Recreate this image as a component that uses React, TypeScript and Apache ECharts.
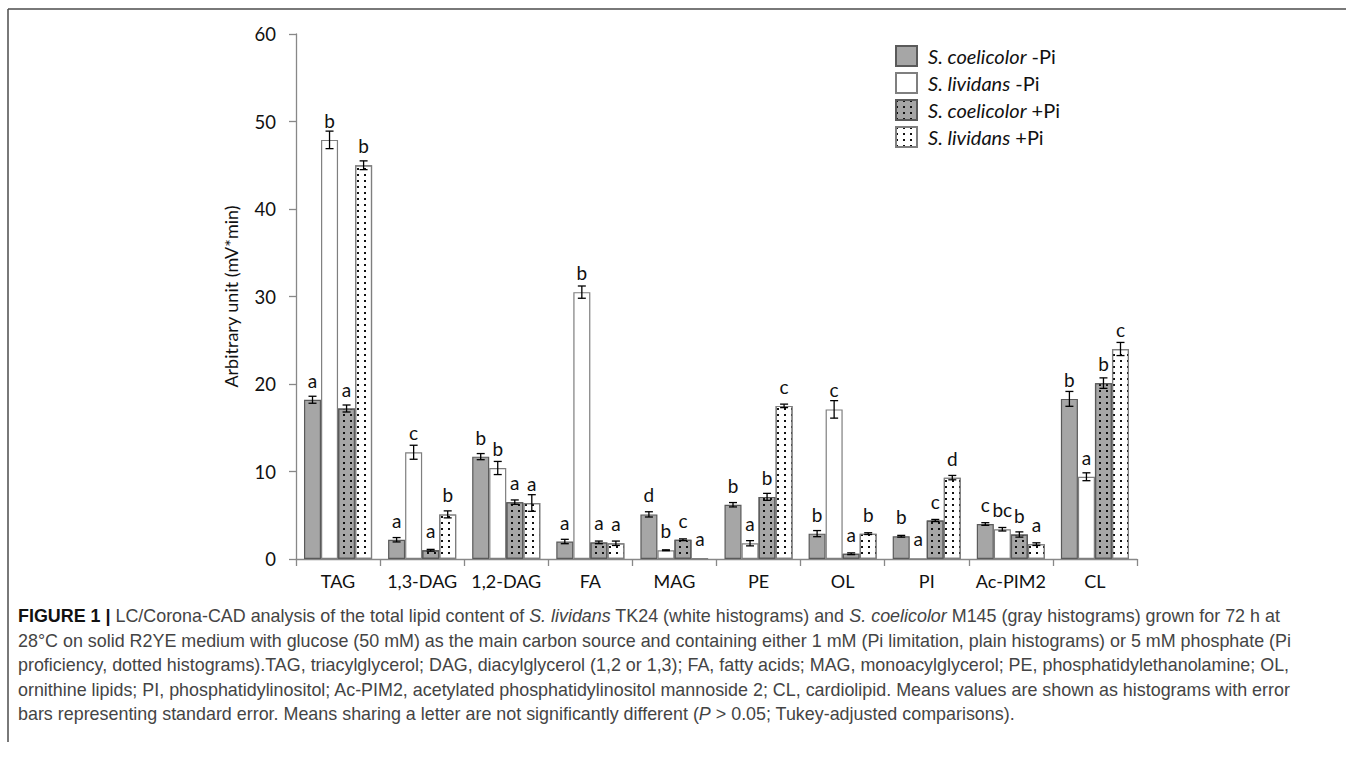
import React, { useEffect, useRef } from 'react';
import * as echarts from 'echarts';

const categories = ['TAG', '1,3-DAG', '1,2-DAG', 'FA', 'MAG', 'PE', 'OL', 'PI', 'Ac-PIM2', 'CL'];

const coelMinus = [18.2, 2.2, 11.7, 2.0, 5.1, 6.2, 2.9, 2.6, 4.0, 18.3];
const coelMinusErr = [0.4, 0.25, 0.35, 0.25, 0.3, 0.25, 0.35, 0.1, 0.15, 0.85];
const coelMinusLetters = ['a', 'a', 'b', 'a', 'd', 'b', 'b', 'b', 'c', 'b'];

const livMinus = [47.9, 12.2, 10.4, 30.5, 1.0, 1.8, 17.1, 0.05, 3.4, 9.4];
const livMinusErr = [1.0, 0.8, 0.75, 0.7, 0.05, 0.3, 1.0, 0, 0.2, 0.45];
const livMinusLetters = ['b', 'c', 'b', 'b', 'b', 'a', 'c', 'a', 'bc', 'a'];

const coelPlus = [17.2, 1.0, 6.5, 1.9, 2.2, 7.1, 0.6, 4.4, 2.8, 20.1];
const coelPlusErr = [0.4, 0.1, 0.25, 0.15, 0.1, 0.4, 0.1, 0.12, 0.3, 0.6];
const coelPlusLetters = ['a', 'a', 'a', 'a', 'c', 'b', 'a', 'c', 'b', 'b'];

const livPlus = [45.0, 5.1, 6.4, 1.8, 0.1, 17.5, 2.9, 9.3, 1.7, 24.0];
const livPlusErr = [0.5, 0.4, 0.95, 0.25, 0, 0.2, 0.1, 0.25, 0.15, 0.75];
const livPlusLetters = ['b', 'b', 'a', 'a', 'a', 'c', 'b', 'd', 'a', 'c'];

const seriesNames = ['S. coelicolor -Pi', 'S. lividans -Pi', 'S. coelicolor +Pi', 'S. lividans +Pi'];

const yTicks = { min: 0, max: 60, interval: 10 };

const captionLines = [
  '{b|FIGURE 1 |} LC/Corona-CAD analysis of the total lipid content of {i|S. lividans} TK24 (white histograms) and {i|S. coelicolor} M145 (gray histograms) grown for 72 h at',
  '28°C on solid R2YE medium with glucose (50 mM) as the main carbon source and containing either 1 mM (Pi limitation, plain histograms) or 5 mM phosphate (Pi',
  'proficiency, dotted histograms).TAG, triacylglycerol; DAG, diacylglycerol (1,2 or 1,3); FA, fatty acids; MAG, monoacylglycerol; PE, phosphatidylethanolamine; OL,',
  'ornithine lipids; PI, phosphatidylinositol; Ac-PIM2, acetylated phosphatidylinositol mannoside 2; CL, cardiolipid. Means values are shown as histograms with error',
  'bars representing standard error. Means sharing a letter are not significantly different ({i|P} > 0.05; Tukey-adjusted comparisons).',
];

const FONT = 'Lato';
const CAP_FONT = 'Liberation Sans';
const CAP_SIZE = 17.9;

export default function App() {
  const ref = useRef<HTMLDivElement>(null);

  useEffect(() => {
    const chart = echarts.init(ref.current!, null, { renderer: 'svg' });

    const dotted = {
      symbol: 'rect',
      symbolSize: 1,
      dashArrayX: [1.3, 4.2],
      dashArrayY: [1.3, 4],
      color: '#111',
      rotation: 0,
    };

    const defs = [
      { name: seriesNames[0], values: coelMinus, errs: coelMinusErr, letters: coelMinusLetters, color: '#a6a6a6', border: '#5a5a5a', decal: null },
      { name: seriesNames[1], values: livMinus, errs: livMinusErr, letters: livMinusLetters, color: '#ffffff', border: '#7f7f7f', decal: null },
      { name: seriesNames[2], values: coelPlus, errs: coelPlusErr, letters: coelPlusLetters, color: '#a6a6a6', border: '#5a5a5a', decal: dotted },
      { name: seriesNames[3], values: livPlus, errs: livPlusErr, letters: livPlusLetters, color: '#ffffff', border: '#7f7f7f', decal: dotted },
    ];

    const CAT_GAP = 0.19;

    const barSeries = defs.map((d) => ({
      name: d.name,
      type: 'bar',
      barGap: '0%',
      barCategoryGap: '19%',
      data: d.values,
      itemStyle: {
        color: d.color,
        borderColor: d.border,
        borderWidth: 1.2,
        ...(d.decal ? { decal: d.decal } : {}),
      },
      label: {
        show: true,
        position: 'top',
        distance: 10,
        fontSize: 19,
        fontFamily: FONT,
        color: '#111',
        formatter: (p: any) => d.letters[p.dataIndex],
      },
      emphasis: { disabled: true },
      z: 2,
    }));

    const errSeries = defs.map((d, k) => ({
      name: '_err' + k,
      type: 'custom',
      silent: true,
      z: 5,
      encode: { x: 0, y: 1 },
      data: d.values.map((v, i) => [i, v, d.errs[i]]),
      renderItem: (params: any, api: any) => {
        const idx = api.value(0);
        const v = api.value(1);
        const e = api.value(2);
        if (!(e > 0)) return { type: 'group', children: [] };
        const band = api.size([1, 0])[0];
        const bw = (band * (1 - CAT_GAP)) / 4;
        const off = (k - 1.5) * bw;
        const top = api.coord([idx, v + e]);
        const bot = api.coord([idx, Math.max(0, v - e)]);
        const x = top[0] + off;
        const cap = 4;
        const st = { stroke: '#000', lineWidth: 1.3 };
        return {
          type: 'group',
          children: [
            { type: 'line', shape: { x1: x, y1: top[1], x2: x, y2: bot[1] }, style: st },
            { type: 'line', shape: { x1: x - cap, y1: top[1], x2: x + cap, y2: top[1] }, style: st },
            { type: 'line', shape: { x1: x - cap, y1: bot[1], x2: x + cap, y2: bot[1] }, style: st },
          ],
        };
      },
    }));

    const legendFormatter = (name: string) => {
      const parts = name.split(' ');
      const tr = parts.pop();
      return '{i|' + parts.join(' ') + '} ' + tr;
    };

    const captionGraphics = captionLines.map((t, i) => ({
      type: 'text',
      left: 18,
      top: 607 + i * 24.5,
      silent: true,
      style: {
        text: t,
        fontSize: CAP_SIZE,
        fontFamily: CAP_FONT,
        fill: '#444444',
        rich: {
          b: { fontSize: CAP_SIZE, fontFamily: CAP_FONT, fontWeight: 'bold', fill: '#111' },
          i: { fontSize: CAP_SIZE, fontFamily: CAP_FONT, fontStyle: 'italic', fill: '#444444' },
        },
      },
    }));

    const option: any = {
      animation: false,
      backgroundColor: '#ffffff',
      grid: { left: 296, right: 209, top: 34, bottom: 199, containLabel: false },
      legend: {
        data: seriesNames,
        orient: 'vertical',
        left: 890,
        top: 40,
        itemWidth: 21,
        itemHeight: 20,
        itemGap: 5,
        icon: 'rect',
        selectedMode: false,
        formatter: legendFormatter,
        textStyle: {
          fontSize: 20,
          lineHeight: 20,
          fontFamily: FONT,
          color: '#111',
          padding: [0, 0, 0, 6],
          rich: {
            i: { fontSize: 20, lineHeight: 20, fontFamily: FONT, fontStyle: 'italic', color: '#111' },
          },
        },
      },
      xAxis: {
        type: 'category',
        data: categories,
        axisLine: { lineStyle: { color: '#888', width: 1.3 } },
        axisTick: { show: true, length: 7, lineStyle: { color: '#888', width: 1.3 } },
        axisLabel: { interval: 0, fontSize: 18, fontFamily: FONT, color: '#111', margin: 13 },
      },
      yAxis: {
        type: 'value',
        min: yTicks.min,
        max: yTicks.max,
        interval: yTicks.interval,
        name: 'Arbitrary unit (mV*min)',
        nameLocation: 'middle',
        nameGap: 56,
        nameTextStyle: { fontSize: 18, fontFamily: FONT, color: '#111' },
        axisLine: { show: true, lineStyle: { color: '#888', width: 1.3 } },
        axisTick: { show: true, length: 7, lineStyle: { color: '#888', width: 1.3 } },
        axisLabel: { fontSize: 18.5, fontFamily: FONT, color: '#111', margin: 20 },
        splitLine: { show: false },
      },
      series: [...barSeries, ...errSeries],
      graphic: [
        { type: 'line', silent: true, shape: { x1: 8, y1: 9, x2: 1346, y2: 9 }, style: { stroke: '#4d4d4d', lineWidth: 1.5 } },
        { type: 'line', silent: true, shape: { x1: 8, y1: 9, x2: 8, y2: 742 }, style: { stroke: '#4d4d4d', lineWidth: 1.5 } },
        ...captionGraphics,
      ],
    };

    chart.setOption(option);
    return () => chart.dispose();
  }, []);

  return (
    <div
      ref={ref}
      style={{ position: 'fixed', left: 0, top: 0, width: 1346, height: 758, background: '#fff' }}
    />
  );
}
